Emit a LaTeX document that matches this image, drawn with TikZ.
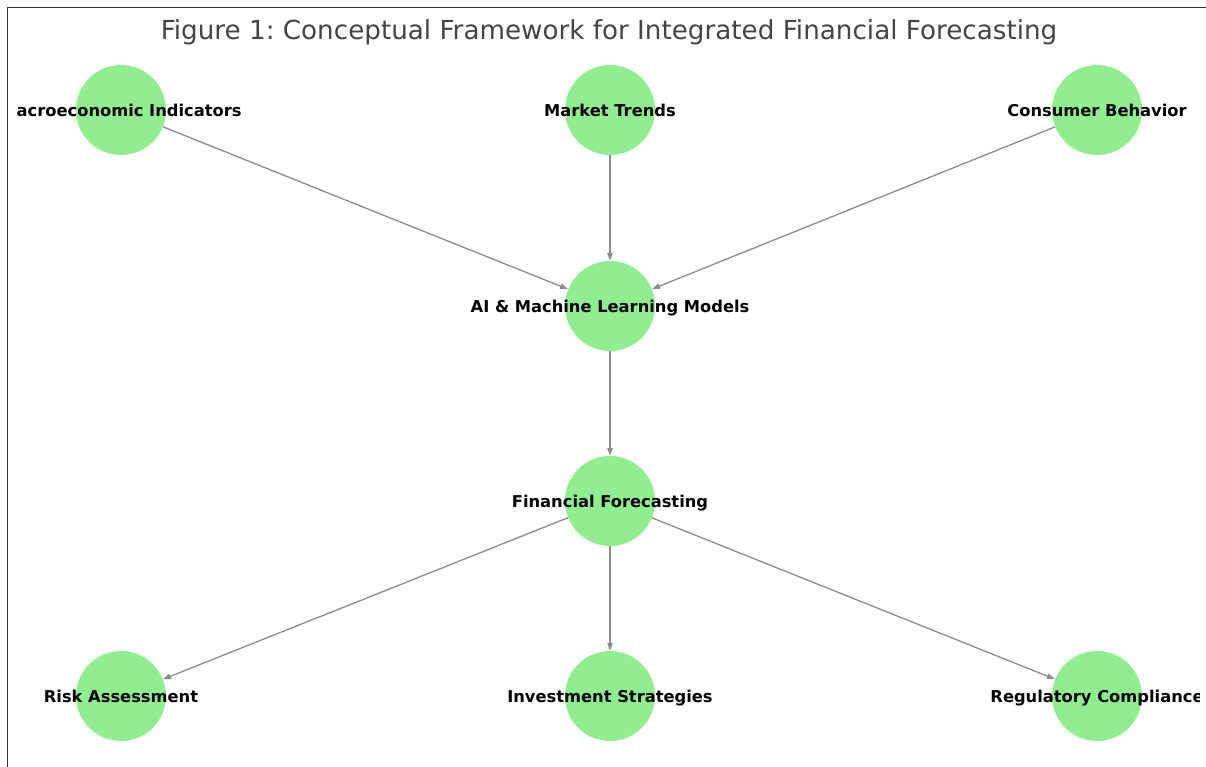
\documentclass[tikz,border=0pt]{standalone}
\usepackage{fontspec}
\setmainfont{DejaVu Sans}
\usetikzlibrary{arrows.meta}
\definecolor{nodegreen}{HTML}{90EE90}
\definecolor{edgegray}{HTML}{8C8C8C}
\definecolor{titlegray}{HTML}{444444}
\definecolor{framegray}{HTML}{303030}
\tikzset{
  bubble/.style={circle, fill=nodegreen, draw=none, minimum size=90pt, inner sep=0pt},
  lbl/.style={font=\fontsize{16.3}{18}\selectfont\bfseries, text=black, inner sep=0pt,
    text height=11.5pt, text depth=3.5pt, yshift=-2.5pt},
  edge/.style={draw=edgegray, line width=1.3pt, -{Triangle[length=8pt,width=5.5pt]}},
}
\frenchspacing
\begin{document}
\begin{tikzpicture}[x=1pt, y=-1pt]
  \useasboundingbox (0,0) rectangle (1206,767);
  % axes frame (left and top sides)
  \draw[framegray, line width=1.4pt] (7.5,767) -- (7.5,7.5) -- (1206,7.5);
  % title
  \node[text=titlegray, font=\fontsize{26.2}{28}\selectfont] (title) at (609,32.5) {Figure 1: Conceptual Framework for Integrated Financial Forecasting};
  % circles
  \node[bubble] (macro) at (121,110) {};
  \node[bubble] (market) at (610,110) {};
  \node[bubble] (consumer) at (1097,110) {};
  \node[bubble] (ai) at (610,306) {};
  \node[bubble] (fin) at (610,501) {};
  \node[bubble] (risk) at (121,696) {};
  \node[bubble] (invest) at (610,696) {};
  \node[bubble] (reg) at (1097,696) {};
  % connectors
  \draw[edge] (macro) -- (ai);
  \draw[edge] (market) -- (ai);
  \draw[edge] (consumer) -- (ai);
  \draw[edge] (ai) -- (fin);
  \draw[edge] (fin) -- (risk);
  \draw[edge] (fin) -- (invest);
  \draw[edge] (fin) -- (reg);
  % labels, clipped to the plotting area
  \begin{scope}
    \clip (17.5,0) rectangle (1199.5,767);
    \node[lbl] (tmacro) at (macro) {Macroeconomic Indicators};
    \node[lbl] (tmarket) at (market) {Market Trends};
    \node[lbl] (tconsumer) at (consumer) {Consumer Behavior};
    \node[lbl] (tai) at (ai) {AI \& Machine Learning Models};
    \node[lbl] (tfin) at (fin) {Financial Forecasting};
    \node[lbl] (trisk) at (risk) {Risk Assessment};
    \node[lbl] (tinvest) at (invest) {Investment Strategies};
    \node[lbl] (treg) at (reg) {Regulatory Compliance};
  \end{scope}
\end{tikzpicture}
\end{document}
